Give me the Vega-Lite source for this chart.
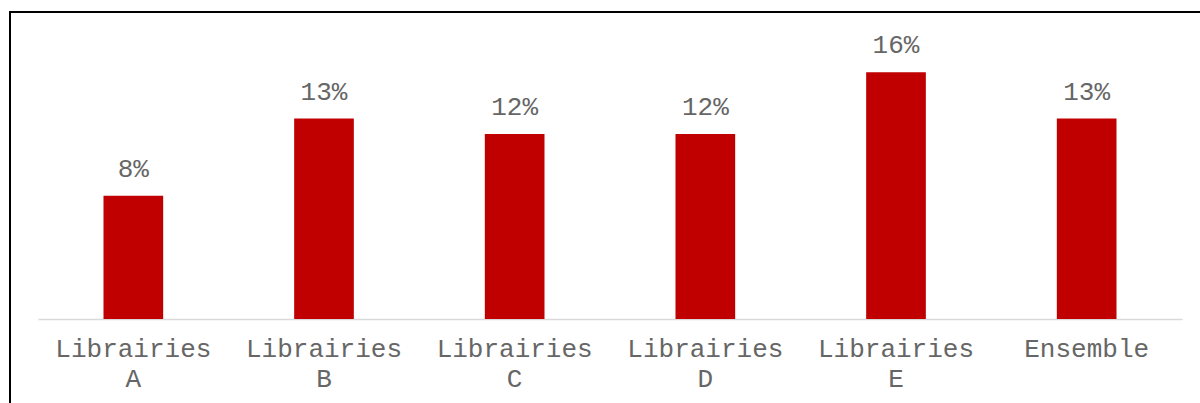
{
  "$schema": "https://vega.github.io/schema/vega-lite/v6.json",
  "width": 1200,
  "height": 400,
  "autosize": {"type": "none"},
  "padding": {"left": 10, "top": 12, "right": 0, "bottom": 0},
  "background": "white",
  "config": {
    "view": {"stroke": "#000000", "strokeWidth": 2},
    "font": "Liberation Mono"
  },
  "data": {
    "values": [
      {"cat": "Librairies A", "value": 0.08},
      {"cat": "Librairies B", "value": 0.13},
      {"cat": "Librairies C", "value": 0.12},
      {"cat": "Librairies D", "value": 0.12},
      {"cat": "Librairies E", "value": 0.16},
      {"cat": "Ensemble", "value": 0.13}
    ]
  },
  "encoding": {
    "x": {
      "field": "cat",
      "type": "nominal",
      "sort": null,
      "title": null,
      "scale": {"range": [28, 1172], "paddingInner": 0.687, "paddingOuter": 0.3435},
      "axis": {
        "offset": -93,
        "ticks": false,
        "domainColor": "#d9d9d9",
        "domainWidth": 1.5,
        "labelAngle": 0,
        "labelFont": "Liberation Mono",
        "labelFontSize": 26,
        "labelColor": "#666666",
        "labelPadding": 16,
        "labelLineHeight": 30,
        "labelExpr": "indexof(datum.label, ' ') > 0 ? split(datum.label, ' ') : datum.label"
      }
    },
    "y": {
      "field": "value",
      "type": "quantitative",
      "scale": {"domain": [-0.06031, 0.19909], "nice": false, "zero": false},
      "axis": null
    }
  },
  "layer": [
    {"mark": {"type": "bar", "color": "#C00000"}},
    {
      "mark": {"type": "text", "baseline": "bottom", "dy": -14, "font": "Liberation Mono", "fontSize": 26, "color": "#666666"},
      "encoding": {"text": {"field": "value", "type": "quantitative", "format": ".0%"}}
    }
  ]
}
